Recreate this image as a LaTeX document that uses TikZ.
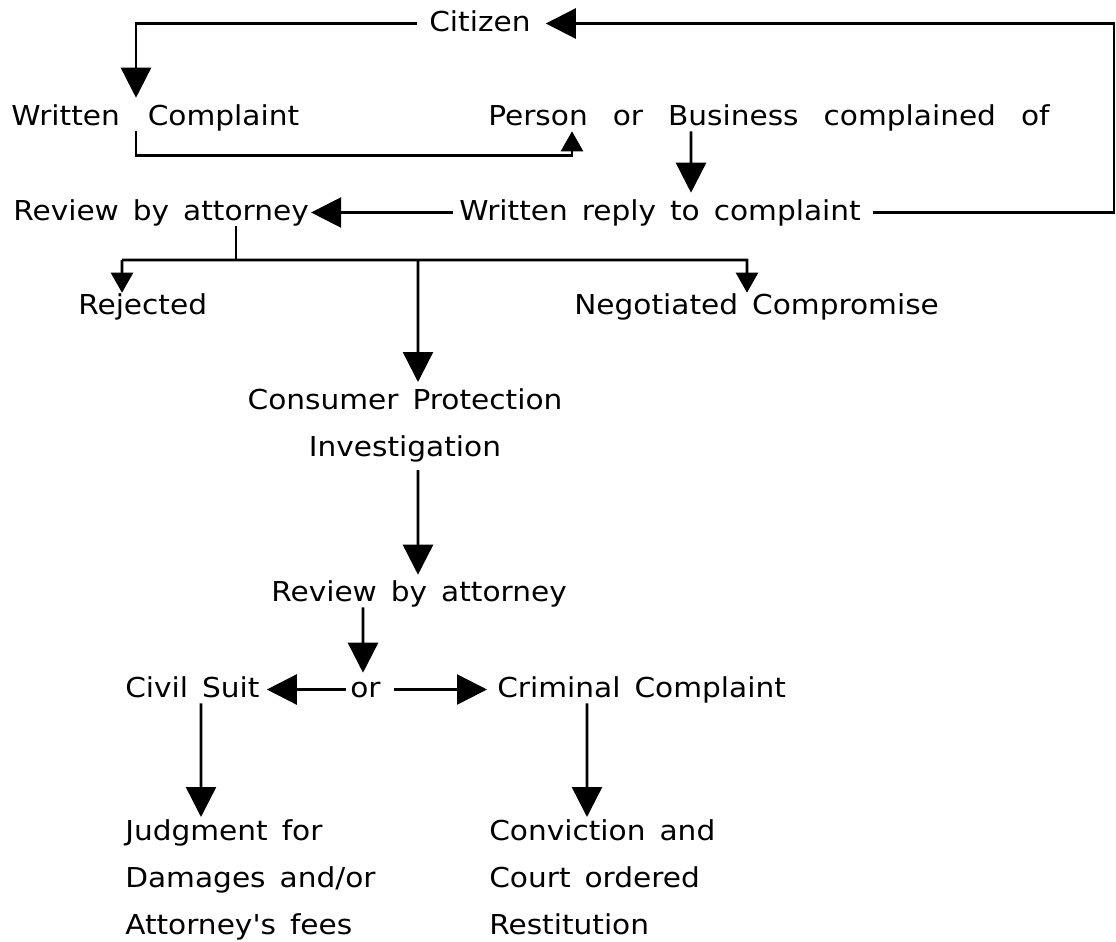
\documentclass[tikz,border=0pt]{standalone}
\usepackage{fontspec}
\setmainfont{DejaVu Sans}[FakeStretch=1.08, Ligatures=TeXOff]
\usetikzlibrary{arrows.meta}
\newcommand{\lblfont}{\fontsize{19.5}{23}\selectfont\spaceskip=0.35cm\relax}
\newcommand{\widefont}{\fontsize{19.5}{23}\selectfont\spaceskip=0.7cm\relax}
\newcommand{\personfont}{\fontsize{19.5}{23}\selectfont\spaceskip=0.625cm\relax}
\newcommand{\multifont}{\fontsize{19.5}{33.5}\selectfont\spaceskip=0.35cm\relax}

\begin{document}
\begin{tikzpicture}[every node/.style={inner sep=0pt}, lbl/.style={anchor=base west, font=\lblfont, text height=0.525cm, text depth=0.15cm}, widelbl/.style={lbl, font=\widefont}, multi/.style={font=\multifont}, line/.style={line width=1.8pt}, bigarrow/.style={line, -{Triangle[length=0.75cm,width=0.75cm]}}, smallarrow/.style={line, -{Triangle[length=0.5cm,width=0.55cm]}}]
\useasboundingbox (0,0) rectangle (27.9,-23.55);
\node[lbl] (citizen) at (10.725,-0.775) {Citizen};
\node[widelbl] (complaint) at (0.275,-3.125) {Written Complaint};
\node[lbl, font=\personfont] (person) at (12.2,-3.125) {Person or Business complained of};
\node[lbl] (review1) at (0.325,-5.5) {Review by attorney};
\node[lbl] (reply) at (11.475,-5.5) {Written reply to complaint};
\node[lbl] (rejected) at (1.95,-7.85) {Rejected};
\node[lbl] (negotiated) at (14.35,-7.85) {Negotiated Compromise};
\node[multi, align=center, anchor=north] (consumer) at (10.125,-9.7) {Consumer Protection\\Investigation};
\node[lbl] (review2) at (6.775,-15.025) {Review by attorney};
\node[lbl] (civil) at (3.125,-17.425) {Civil Suit};
\node[lbl] (or) at (8.75,-17.425) {or};
\node[lbl] (criminal) at (12.425,-17.425) {Criminal Complaint};
\node[multi, align=left, anchor=north west] (judgment) at (3.125,-20.475) {Judgment for\\Damages and/or\\Attorney's fees};
\node[multi, align=left, anchor=north west] (conviction) at (12.225,-20.475) {Conviction and\\Court ordered\\Restitution};
\coordinate (ret) at (27.85,-0.5875);
\coordinate (barL) at (3.05,-6.5);
\coordinate (barM) at (10.45,-6.5);
\coordinate (barR) at (18.675,-6.5);
\draw[bigarrow] ([xshift=-0.3cm]citizen.west) -| ([shift={(3.125,0.15)}]complaint.north west);
\draw[smallarrow] ([xshift=3.125cm]complaint.south west) -- ++(0,-0.6) -| ([xshift=2.1cm]person.south west);
\draw[bigarrow] ([xshift=5.075cm]person.south west) -- ([shift={(5.8,0.15)}]reply.north west);
\draw[bigarrow] ([xshift=-0.15cm]reply.west) -- ([xshift=0.05cm]review1.east);
\draw[bigarrow] ([xshift=0.3cm]reply.east) -| (ret) -- ([xshift=0.375cm]citizen.east);
\draw[line] ([xshift=5.575cm]review1.south west) -- ++(0,-0.85);
\draw[smallarrow] (barL) -- (barR) -- ([xshift=4.325cm]negotiated.north west);
\draw[smallarrow] (barL) -- ([xshift=1.1cm]rejected.north west);
\draw[bigarrow] (barM) -- ([shift={(0.325,0.15)}]consumer.north);
\draw[bigarrow] ([shift={(0.325,-0.2)}]consumer.south) -- ([shift={(3.675,0.125)}]review2.north west);
\draw[bigarrow] ([xshift=2.3cm]review2.south west) -- ([shift={(0.325,0.075)}]or.north west);
\draw[bigarrow] ([xshift=-0.1cm]or.west) -- ([xshift=0.175cm]civil.east);
\draw[bigarrow] ([xshift=0.325cm]or.east) -- ([xshift=-0.25cm]criminal.west);
\draw[bigarrow] ([xshift=1.9cm]civil.south west) -- ([shift={(1.9,0.05)}]judgment.north west);
\draw[bigarrow] ([xshift=2.25cm]criminal.south west) -- ([shift={(2.45,0.05)}]conviction.north west);
\end{tikzpicture}
\end{document}
